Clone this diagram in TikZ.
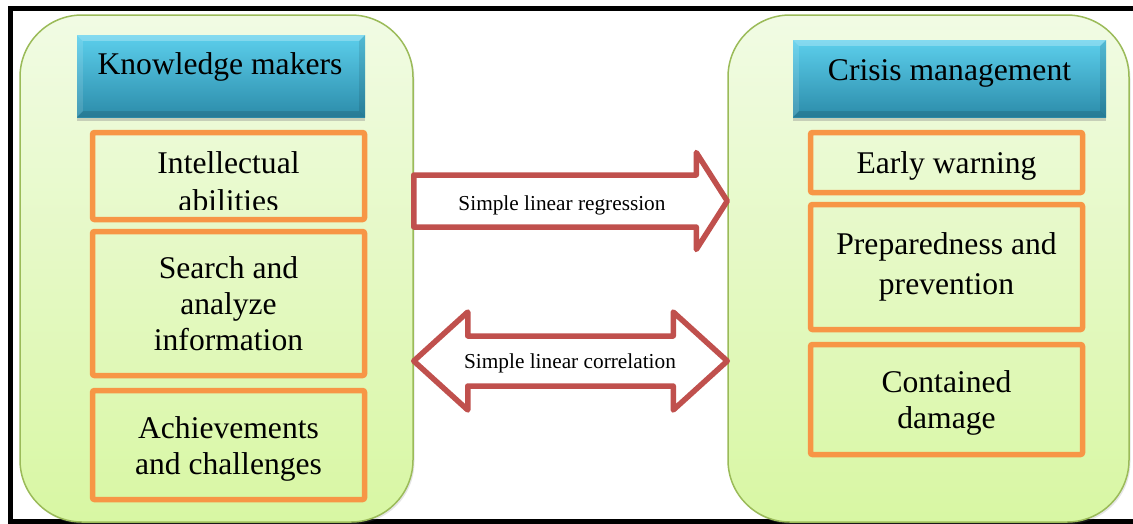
\documentclass[tikz,border=0pt]{standalone}
\usepackage{fontspec}
\setmainfont{Liberation Serif}
\usetikzlibrary{shadows}

\definecolor{grpborder}{RGB}{155,187,89}
\definecolor{grptop}{RGB}{241,251,228}
\definecolor{grpbot}{RGB}{216,247,163}
\definecolor{headtop}{RGB}{92,207,236}
\definecolor{headbot}{RGB}{44,140,170}
\definecolor{itemline}{RGB}{247,150,70}
\definecolor{arrowline}{RGB}{192,80,77}

\newcommand\itemfont{\fontsize{31.6pt}{36pt}\selectfont}
\newcommand\arwfont{\fontsize{21.3pt}{25pt}\selectfont}

\begin{document}
\begin{tikzpicture}[x=1pt, y=-1pt,
    group/.style={draw=grpborder, line width=1.5pt, rounded corners=62pt,
      top color=grptop, bottom color=grpbot, inner sep=0pt,
      drop shadow={shadow xshift=1.5pt, shadow yshift=-2pt, opacity=.2}},
    head/.style={top color=headtop, bottom color=headbot, inner sep=0pt,
      drop shadow={shadow xshift=0pt, shadow yshift=-4pt, opacity=.35}},
    headtext/.style={font=\itemfont, inner sep=0pt, align=center},
    item/.style={draw=itemline, line width=5.5pt, rounded corners=2pt,
      minimum width=272pt, inner sep=0pt, align=center, font=\itemfont},
    blockarrow/.style={draw=arrowline, line width=5.5pt, line join=round, fill=white},
    arrowtext/.style={font=\arwfont, inner sep=0pt}]
    \useasboundingbox (0,0) rectangle (1133,523);
    \clip (0,0) rectangle (1133,523);
    \fill[white] (0,0) rectangle (1133,523);
    % outer frame, open on the right
    \draw[line width=5pt] (1150,8.5) -- (10.5,8.5) -- (10.5,521) -- (1150,521);

    % the two groups
    \node[group, minimum width=393pt, minimum height=507pt] (kmgroup) at (216.5,268.5) {};
    \node[group, minimum width=401pt, minimum height=507pt] (cmgroup) at (928.5,268.5) {};

    % group headers, with a bevelled edge
    \node[head, minimum width=288pt, minimum height=82pt] (kmhead) at (221,76) {};
    \node[head, minimum width=313pt, minimum height=77pt] (cmhead) at (949.5,78.5) {};
    \foreach \h in {kmhead,cmhead} {
      \fill[white, opacity=.25] (\h.north west) -- (\h.north east)
        -- ([shift={(-6,6)}]\h.north east) -- ([shift={(6,6)}]\h.north west) -- cycle;
      \fill[white, opacity=.12] (\h.north west) -- ([shift={(6,6)}]\h.north west)
        -- ([shift={(6,-6)}]\h.south west) -- (\h.south west) -- cycle;
      \fill[black, opacity=.12] (\h.south west) -- ([shift={(6,-6)}]\h.south west)
        -- ([shift={(-6,-6)}]\h.south east) -- (\h.south east) -- cycle;
      \fill[black, opacity=.1] (\h.north east) -- ([shift={(-6,6)}]\h.north east)
        -- ([shift={(-6,-6)}]\h.south east) -- (\h.south east) -- cycle;
    }
    \node[headtext, anchor=base] (kmtitle) at (220,74) {Knowledge makers};
    \node[headtext, anchor=base] (cmtitle) at (949.5,80) {Crisis management};

    % left column (second line of the first box is cut off by its frame)
    \node[item, minimum height=87pt] (intel) at (228.5,176) {};
    \begin{scope}
      \clip (intel.north west) rectangle ([yshift=12.5pt]intel.south east);
      \node[headtext] (inteltext) at (228.5,181.3) {Intellectual\\[2pt]abilities};
    \end{scope}
    \node[item, minimum height=144pt] (search) at (228.5,303.5) {Search and\\analyze\\information};
    \node[item, minimum height=109pt] (achieve) at (228.5,445) {};
    \node[headtext] (achievetext) at ([yshift=-4pt]achieve.center) {Achievements\\and challenges};

    % right column
    \node[item, minimum height=60pt, text height=28pt] (warning) at (946.5,162.5) {Early warning};
    \node[item, minimum height=125pt] (prepare) at (946.5,267) {Preparedness and\\[4pt]prevention};
    \node[item, minimum height=110pt] (damage) at (946.5,399.5) {};
    \node[headtext] (damagetext) at ([yshift=-3pt]damage.center) {Contained\\damage};

    % regression: one-way block arrow
    \coordinate (regfrom) at (kmgroup.east |- 0,201);
    \coordinate (regto) at (cmgroup.west |- 0,201);
    \draw[blockarrow] ([shift={(0,-26)}]regfrom) -- ([shift={(-31,-26)}]regto)
      -- ([shift={(-31,-48.5)}]regto) -- (regto) -- ([shift={(-31,48.5)}]regto)
      -- ([shift={(-31,26)}]regto) -- ([shift={(0,26)}]regfrom) -- cycle;
    \node[arrowtext, anchor=base] (regtext) at (562,210) {Simple linear regression};

    % correlation: two-way block arrow
    \coordinate (corfrom) at (kmgroup.east |- 0,361);
    \coordinate (corto) at (cmgroup.west |- 0,361);
    \draw[blockarrow] (corfrom) -- ([shift={(54,-49)}]corfrom) -- ([shift={(54,-25)}]corfrom)
      -- ([shift={(-54,-25)}]corto) -- ([shift={(-54,-49)}]corto) -- (corto)
      -- ([shift={(-54,49)}]corto) -- ([shift={(-54,25)}]corto)
      -- ([shift={(54,25)}]corfrom) -- ([shift={(54,49)}]corfrom) -- cycle;
    \node[arrowtext, anchor=base] (cortext) at (570,368) {Simple linear correlation};
\end{tikzpicture}
\end{document}
